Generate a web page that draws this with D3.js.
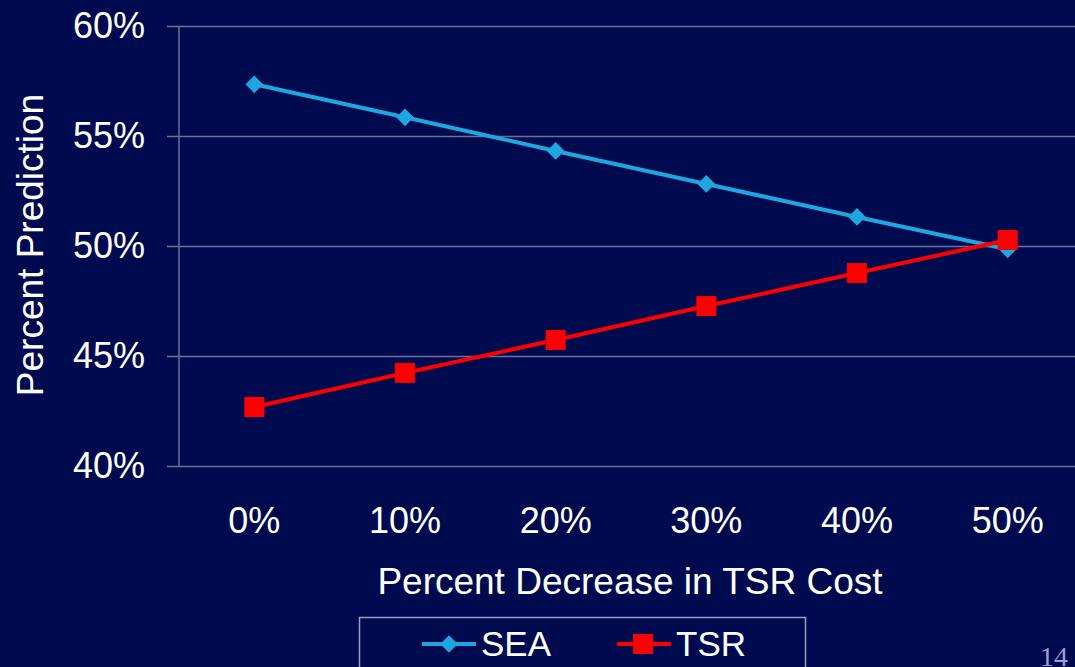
<!DOCTYPE html>
<html>
<head>
<meta charset="utf-8">
<script src="https://cdn.jsdelivr.net/npm/d3@7"></script>
<style>
  html, body { margin: 0; padding: 0; background: #000a4f; }
  svg { display: block; font-family: "Liberation Sans", Arial, sans-serif; }
</style>
</head>
<body>
<svg></svg>
<script>
// Chart data
const categories = ["0%", "10%", "20%", "30%", "40%", "50%"];
const seaValues = [57.35, 55.85, 54.32, 52.82, 51.32, 49.85];
const tsrValues = [42.68, 44.23, 45.73, 47.27, 48.77, 50.27];
const yTicks = [40, 45, 50, 55, 60];

const width = 1075;
const height = 667;
const plot = { left: 179, right: 1083, top: 26, bottom: 466 };

const svg = d3.select("svg")
    .attr("width", width)
    .attr("height", height);

svg.append("rect")
    .attr("width", width)
    .attr("height", height)
    .attr("fill", "#000a4f");

// Scales
const xScale = d3.scaleBand()
    .domain(categories)
    .range([plot.left, plot.right]);

const yScale = d3.scaleLinear()
    .domain([40, 60])
    .range([plot.bottom, plot.top]);

const gridColor = "#6e6f93";

// Y axis with gridlines
const yAxis = d3.axisLeft(yScale)
    .tickValues(yTicks)
    .tickSize(-(width - plot.left))
    .tickPadding(34)
    .tickFormat(d => d + "%");

const yG = svg.append("g")
    .attr("transform", `translate(${plot.left}, 0)`)
    .call(yAxis);
yG.select(".domain").remove();
yG.selectAll(".tick line")
    .attr("stroke", gridColor)
    .attr("stroke-width", 1.5)
    .attr("x1", -12);
yG.selectAll(".tick text")
    .attr("fill", "#ffffff")
    .attr("font-size", 36);

// vertical axis line
svg.append("line")
    .attr("x1", plot.left).attr("x2", plot.left)
    .attr("y1", plot.top).attr("y2", plot.bottom)
    .attr("stroke", gridColor)
    .attr("stroke-width", 1.5);

// X axis labels
const xAxis = d3.axisBottom(xScale).tickSize(0).tickPadding(41);
const xG = svg.append("g")
    .attr("transform", `translate(0, ${plot.bottom})`)
    .call(xAxis);
xG.select(".domain").remove();
xG.selectAll(".tick text")
    .attr("fill", "#ffffff")
    .attr("font-size", 36);

// Axis titles
svg.append("text")
    .attr("x", 630)
    .attr("y", 594)
    .attr("text-anchor", "middle")
    .attr("fill", "#ffffff")
    .attr("font-size", 37)
    .text("Percent Decrease in TSR Cost");

svg.append("text")
    .attr("transform", "translate(43, 245) rotate(-90)")
    .attr("text-anchor", "middle")
    .attr("fill", "#ffffff")
    .attr("font-size", 37)
    .text("Percent Prediction");

// Lines
const seaColor = "#1ea6de";
const tsrColor = "#ff0000";

const line = d3.line()
    .x((d, i) => xScale(categories[i]) + xScale.bandwidth() / 2)
    .y(d => yScale(d));

svg.append("path")
    .datum(seaValues)
    .attr("fill", "none")
    .attr("stroke", seaColor)
    .attr("stroke-width", 4)
    .attr("d", line);

svg.append("path")
    .datum(tsrValues)
    .attr("fill", "none")
    .attr("stroke", tsrColor)
    .attr("stroke-width", 4)
    .attr("d", line);

// Markers
const diamond = d3.symbol().type(d3.symbolDiamond2).size(200);

svg.selectAll(".sea-pt")
    .data(seaValues)
    .enter()
    .append("path")
    .attr("class", "sea-pt")
    .attr("transform", (d, i) => `translate(${xScale(categories[i]) + xScale.bandwidth() / 2}, ${yScale(d)})`)
    .attr("d", diamond)
    .attr("fill", seaColor);

svg.selectAll(".tsr-pt")
    .data(tsrValues)
    .enter()
    .append("rect")
    .attr("class", "tsr-pt")
    .attr("x", (d, i) => xScale(categories[i]) + xScale.bandwidth() / 2 - 10)
    .attr("y", d => yScale(d) - 10)
    .attr("width", 20)
    .attr("height", 20)
    .attr("fill", tsrColor);

// Legend
const legend = svg.append("g");
legend.append("rect")
    .attr("x", 359.5)
    .attr("y", 617.5)
    .attr("width", 446)
    .attr("height", 60)
    .attr("fill", "none")
    .attr("stroke", "#9a9cc0")
    .attr("stroke-width", 1.5);

legend.append("line")
    .attr("x1", 422).attr("x2", 476)
    .attr("y1", 644).attr("y2", 644)
    .attr("stroke", seaColor).attr("stroke-width", 4);
legend.append("path")
    .attr("transform", "translate(449, 644)")
    .attr("d", diamond)
    .attr("fill", seaColor);
legend.append("text")
    .attr("x", 481).attr("y", 656)
    .attr("fill", "#ffffff")
    .attr("font-size", 35)
    .text("SEA");

legend.append("line")
    .attr("x1", 617).attr("x2", 671)
    .attr("y1", 644).attr("y2", 644)
    .attr("stroke", tsrColor).attr("stroke-width", 4);
legend.append("rect")
    .attr("x", 633).attr("y", 634)
    .attr("width", 20).attr("height", 20)
    .attr("fill", tsrColor);
legend.append("text")
    .attr("x", 676).attr("y", 656)
    .attr("fill", "#ffffff")
    .attr("font-size", 35)
    .text("TSR");

// Slide number (cut by the bottom edge, as in the slide)
svg.append("text")
    .attr("x", 1040).attr("y", 666)
    .attr("fill", "#9c9cd6")
    .attr("font-family", "Liberation Serif, serif")
    .attr("font-size", 28)
    .text("14");
</script>
</body>
</html>
